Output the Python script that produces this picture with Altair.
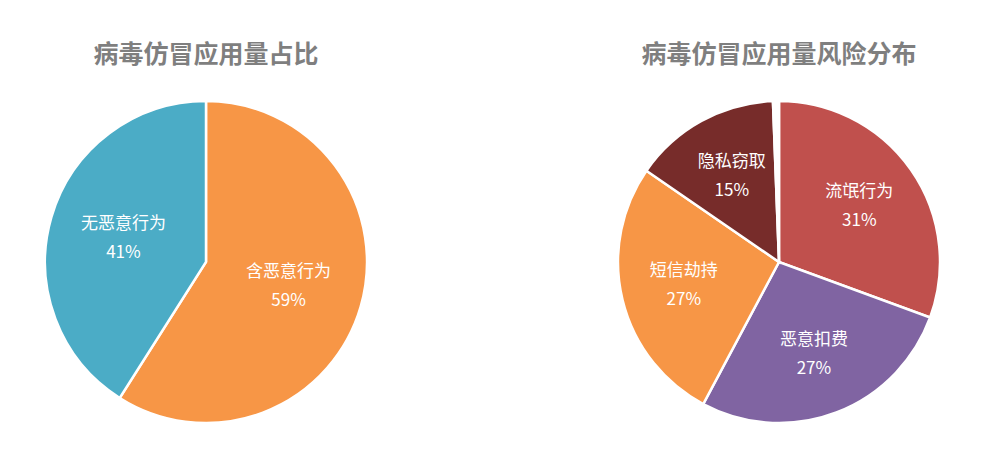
import altair as alt
import pandas as pd

FONT = "Noto Sans CJK SC"

# left pie: share of counterfeit apps
share_names = ["含恶意行为", "无恶意行为"]
share_values = [59, 41]
share_labels = ["59%", "41%"]
share_colors = ["#F79646", "#4BACC6"]

# right pie: risk distribution (last slice is the thin white unlabelled sliver)
risk_names = ["流氓行为", "恶意扣费", "短信劫持", "隐私窃取", "其他"]
risk_values = [30.6, 27.2, 26.8, 14.8, 0.6]
risk_labels = ["31%", "27%", "27%", "15%", ""]
risk_colors = ["#C0504D", "#8064A2", "#F79646", "#772C2A", "#FFFFFF"]


def pie(names, values, labels, colors, title, label_radius):
    df = pd.DataFrame({
        "name": names,
        "value": values,
        "idx": list(range(len(names))),
        "label": [f"{n}\n{p}" if p else "" for n, p in zip(names, labels)],
    })
    base = alt.Chart(df).encode(
        theta=alt.Theta("value:Q", stack=True),
        order=alt.Order("idx:Q"),
    )
    arcs = base.mark_arc(outerRadius=161, stroke="white", strokeWidth=2.5).encode(
        color=alt.Color("name:N", scale=alt.Scale(domain=names, range=colors), legend=None)
    )
    # two-line label; dy pulls the block up so it is centred on the anchor
    text = base.mark_text(
        radius=label_radius, font=FONT, fontSize=17, color="white",
        lineBreak="\n", lineHeight=29, baseline="middle", dy=-14,
    ).encode(text="label:N")
    return (arcs + text).properties(
        width=386, height=330,
        title=alt.TitleParams(title, font=FONT, fontSize=25, fontWeight="bold",
                              color="#7F7F7F", anchor="middle", offset=28),
    )


left = pie(share_names, share_values, share_labels, share_colors, "病毒仿冒应用量占比", 86)
right = pie(risk_names, risk_values, risk_labels, risk_colors, "病毒仿冒应用量风险分布", 98)

chart = (
    alt.hconcat(left, right, spacing=187)
    .resolve_scale(color="independent", theta="independent")
    .properties(padding={"left": 5, "right": 5, "top": 35, "bottom": 5})
    .configure_view(stroke=None)
    .configure(background="white")
)
chart.save("out.html", embed_options={"renderer": "svg", "actions": False})
